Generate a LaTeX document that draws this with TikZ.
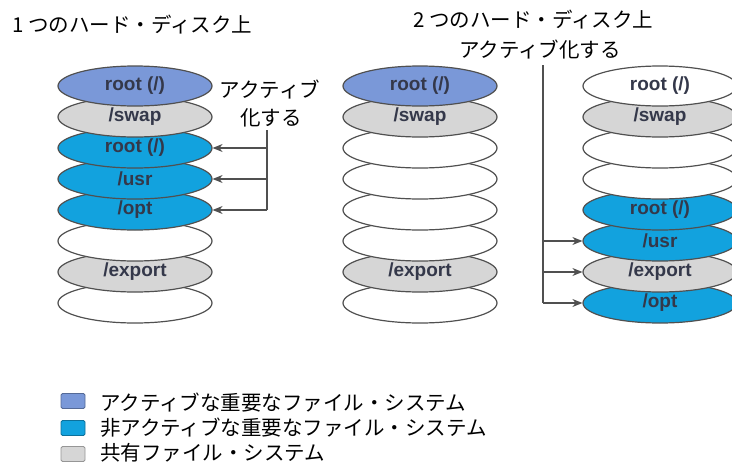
\documentclass[tikz,border=0pt]{standalone}
\usepackage{fontspec}
\setmainfont{Noto Sans CJK JP}
\newfontfamily\labfont{Liberation Sans}
\usetikzlibrary{shapes.geometric,arrows.meta}
\definecolor{activeblue}{HTML}{7A98D8}
\definecolor{inactivecyan}{HTML}{12A2DE}
\definecolor{sharedgray}{HTML}{D6D6D6}
\definecolor{edgegray}{HTML}{505050}
\definecolor{labtext}{HTML}{34384A}
\tikzset{
  disk/.style={ellipse, draw=edgegray, line width=1.2pt, minimum width=154pt, minimum height=40pt, inner sep=0pt,
    font=\labfont\bfseries\fontsize{19}{19}\selectfont, text=labtext},
  act/.style={disk, fill=activeblue},
  inact/.style={disk, fill=inactivecyan},
  shared/.style={disk, fill=sharedgray},
  free/.style={disk, fill=white},
  conn/.style={draw=edgegray, line width=1.3pt},
  arr/.style={conn, -{Stealth[length=10pt,width=8pt]}},
  jtext/.style={font=\fontsize{20.5}{24}\selectfont, text=black, inner sep=0pt},
  legbox/.style={draw=#1!70!black, line width=0.8pt, rounded corners=1.5pt, fill=#1, minimum width=24pt, minimum height=15pt, inner sep=0pt},
}
\begin{document}
\begin{tikzpicture}[x=1pt,y=-1pt]
\useasboundingbox[fill=white] (0,0) rectangle (732,466);

% titles
\node[jtext, anchor=west] (t1) at (12,25) {1 つのハード・ディスク上};
\node[jtext, anchor=west] (t2) at (413,20) {2 つのハード・ディスク上};
\node[jtext] (t3) at (540,50) {アクティブ化する};
\node[jtext] (a1) at (270,90) {アクティブ};
\node[jtext] (a2) at (271,118) {化する};

% left stack (drawn bottom to top)
\node[free]   (L7) at (135,303) {};
\node[shared] (L6) at (135,272) {/export};
\node[free]   (L5) at (135,241) {};
\node[inact]  (L4) at (135,210) {/opt};
\node[inact]  (L3) at (135,179) {/usr};
\node[inact]  (L2) at (135,148) {root (/)};
\node[shared] (L1) at (135,117) {/swap};
\node[act]    (L0) at (135,86)  {root (/)};

% middle stack
\node[free]   (M7) at (420,303) {};
\node[shared] (M6) at (420,272) {/export};
\node[free]   (M5) at (420,241) {};
\node[free]   (M4) at (420,210) {};
\node[free]   (M3) at (420,179) {};
\node[free]   (M2) at (420,148) {};
\node[shared] (M1) at (420,117) {/swap};
\node[act]    (M0) at (420,86)  {root (/)};

% right stack
\node[inact]  (R7) at (660,303) {/opt};
\node[shared] (R6) at (660,272) {/export};
\node[inact]  (R5) at (660,241) {/usr};
\node[inact]  (R4) at (660,210) {root (/)};
\node[free]   (R3) at (660,179) {};
\node[free]   (R2) at (660,148) {};
\node[shared] (R1) at (660,117) {/swap};
\node[free]   (R0) at (660,86)  {root (/)};

% left activation arrows
\coordinate (LVt) at (267,130);
\coordinate (LVb) at (267,210);
\draw[conn] (LVt) -- (LVb);
\draw[arr] (L2.east -| LVt) -- (L2.east);
\draw[arr] (L3.east -| LVt) -- (L3.east);
\draw[arr] (L4.east -| LVt) -- (L4.east);

% right activation arrows
\coordinate (RVt) at (543,65);
\coordinate (RVb) at (543,303);
\draw[conn] (RVt) -- (RVb);
\draw[arr] (R5.west -| RVt) -- (R5.west);
\draw[arr] (R6.west -| RVt) -- (R6.west);
\draw[arr] (R7.west -| RVt) -- (R7.west);

% legend
\node[legbox=activeblue]   (k1) at (73,401) {};
\node[legbox=inactivecyan] (k2) at (73,428) {};
\node[legbox=sharedgray]   (k3) at (73,454) {};
\node[jtext, anchor=west] (l1) at (100,403) {アクティブな重要なファイル・システム};
\node[jtext, anchor=west] (l2) at (100,428) {非アクティブな重要なファイル・システム};
\node[jtext, anchor=west] (l3) at (100,453) {共有ファイル・システム};
\end{tikzpicture}
\end{document}
